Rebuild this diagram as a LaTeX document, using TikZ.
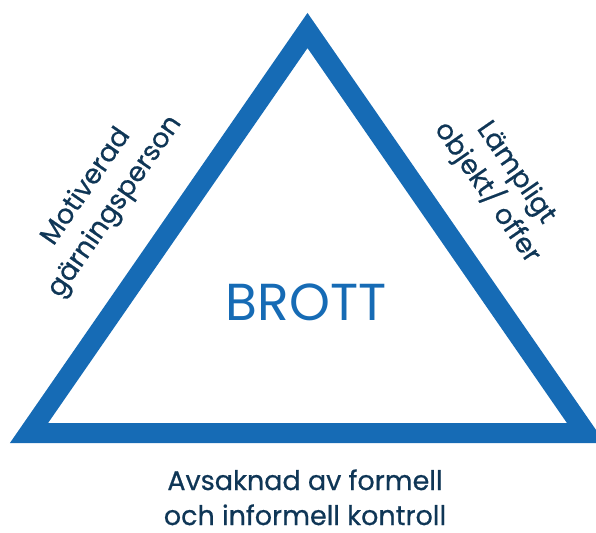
\documentclass[tikz,border=0pt]{standalone}
\usepackage{fontspec}
\setmainfont{Poppins}
\newfontfamily\lblfont[FakeBold=0.6]{Poppins}
\definecolor{triblue}{HTML}{166BB5}
\definecolor{navy}{HTML}{0F3656}
\begin{document}
\begin{tikzpicture}[x=1pt,y=-1pt,
  lbl/.style={text=navy, font=\lblfont\fontsize{27}{35}\selectfont, align=center, inner sep=0pt},
  big/.style={text=triblue, font=\fontsize{52}{60}\selectfont, inner sep=0pt}]
\useasboundingbox (0,0) rectangle (596,532);
\coordinate (apex) at (307.5,30.5);
\coordinate (bl) at (29,433);
\coordinate (br) at (586,433);
\draw[triblue, line width=20pt, miter limit=10] (apex) -- (bl) -- (br) -- cycle;
\node[big, anchor=base] (brott) at (306,320) {BROTT};
\node[lbl, rotate=55.3] (left) at (101,197) {Motiverad\\gärningsperson};
\node[lbl, rotate=-55.3] (right) at (501,183) {Lämpligt\\objekt/ offer};
\node[lbl, anchor=base] (b1) at (305,490) {Avsaknad av formell};
\node[lbl, anchor=base] (b2) at (305,525) {och informell kontroll};
\end{tikzpicture}
\end{document}
